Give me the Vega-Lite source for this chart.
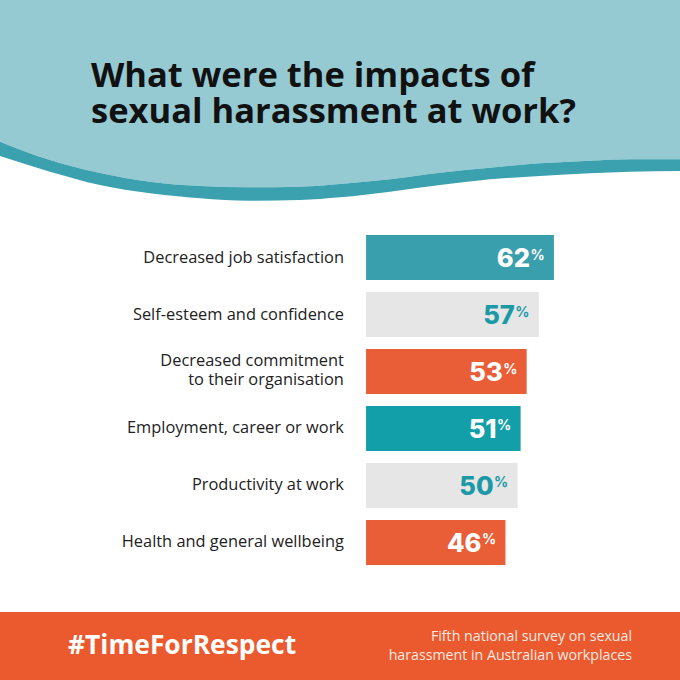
{
  "$schema": "https://vega.github.io/schema/vega-lite/v6.json",
  "padding": 0,
  "spacing": 0,
  "background": "white",
  "config": {"view": {"stroke": null}, "font": "Open Sans"},
  "datasets": {
    "wave": [
      {"x": 0, "inner": 141.7, "outer": 156},
      {"x": 50, "inner": 160, "outer": 171.7},
      {"x": 100, "inner": 173, "outer": 185},
      {"x": 150, "inner": 181.7, "outer": 193.3},
      {"x": 200, "inner": 186, "outer": 198.3},
      {"x": 250, "inner": 187.3, "outer": 200.7},
      {"x": 300, "inner": 186.7, "outer": 200},
      {"x": 340, "inner": 184, "outer": 197.3},
      {"x": 390, "inner": 179.3, "outer": 191.7},
      {"x": 440, "inner": 172.7, "outer": 185},
      {"x": 490, "inner": 167.7, "outer": 179.3},
      {"x": 540, "inner": 163.3, "outer": 176},
      {"x": 590, "inner": 160.7, "outer": 173.3},
      {"x": 630, "inner": 159.3, "outer": 171.7},
      {"x": 680, "inner": 159.3, "outer": 171}
    ],
    "impacts": [
      {"impact": "Decreased job satisfaction", "percent": 62},
      {"impact": "Self-esteem and confidence", "percent": 57},
      {"impact": "Decreased commitment\nto their organisation", "percent": 53},
      {"impact": "Employment, career or work", "percent": 51},
      {"impact": "Productivity at work", "percent": 50},
      {"impact": "Health and general wellbeing", "percent": 46}
    ]
  },
  "vconcat": [
    {
      "width": 680,
      "height": 205,
      "view": {"stroke": null, "fill": "white"},
      "layer": [
        {
          "data": {"name": "wave"},
          "mark": {"type": "area", "color": "#96cad3", "interpolate": "monotone"},
          "encoding": {
            "x": {"field": "x", "type": "quantitative", "scale": {"domain": [0, 680], "nice": false, "zero": false}, "axis": null},
            "y": {"field": "inner", "type": "quantitative", "scale": {"domain": [0, 205], "nice": false, "reverse": true}, "axis": null},
            "y2": {"datum": 0}
          }
        },
        {
          "data": {"name": "wave"},
          "mark": {"type": "area", "color": "#3ca1af", "interpolate": "monotone"},
          "encoding": {
            "x": {"field": "x", "type": "quantitative"},
            "y": {"field": "outer", "type": "quantitative"},
            "y2": {"field": "inner"}
          }
        },
        {
          "data": {"values": [{"title": "What were the impacts of"}]},
          "mark": {"type": "text", "align": "left", "baseline": "alphabetic", "fontSize": 34.5, "fontWeight": "bold", "font": "Open Sans", "color": "#111111"},
          "encoding": {
            "x": {"datum": 91, "type": "quantitative"},
            "y": {"datum": 86.5, "type": "quantitative"},
            "text": {"field": "title"}
          }
        },
        {
          "data": {"values": [{"title": "sexual harassment at work?"}]},
          "mark": {"type": "text", "align": "left", "baseline": "alphabetic", "fontSize": 34.5, "fontWeight": "bold", "font": "Open Sans", "color": "#111111"},
          "encoding": {
            "x": {"datum": 91, "type": "quantitative"},
            "y": {"datum": 123, "type": "quantitative"},
            "text": {"field": "title"}
          }
        }
      ]
    },
    {
      "width": 680,
      "height": 407,
      "data": {"name": "impacts"},
      "resolve": {"scale": {"color": "independent"}},
      "layer": [
        {
          "mark": {"type": "bar"},
          "encoding": {
            "y": {"field": "impact", "type": "nominal", "sort": null, "scale": {"range": [30, 360], "paddingInner": 0.21, "paddingOuter": 0}, "axis": null},
            "x": {"field": "percent", "type": "quantitative", "scale": {"domain": [-120.8, 103.6], "nice": false, "zero": false}, "axis": null},
            "x2": {"datum": 0},
            "color": {
              "field": "impact", "type": "nominal", "legend": null,
              "scale": {
                "domain": ["Decreased job satisfaction", "Self-esteem and confidence", "Decreased commitment\nto their organisation", "Employment, career or work", "Productivity at work", "Health and general wellbeing"],
                "range": ["#3a9fad", "#e6e6e6", "#e95d37", "#129fa9", "#e6e6e6", "#e95d37"]
              }
            }
          }
        },
        {
          "transform": [{"filter": "indexof(datum.impact, '\\n') < 0"}],
          "mark": {"type": "text", "align": "right", "baseline": "middle", "fontSize": 16.4, "font": "Open Sans", "color": "#222222"},
          "encoding": {
            "y": {"field": "impact", "type": "nominal", "sort": null},
            "x": {"datum": -7.3, "type": "quantitative"},
            "text": {"field": "impact"}
          }
        },
        {
          "transform": [{"filter": "indexof(datum.impact, '\\n') >= 0"}],
          "mark": {"type": "text", "align": "right", "baseline": "middle", "lineBreak": "\n", "lineHeight": 19, "dy": -11, "fontSize": 16.4, "font": "Open Sans", "color": "#222222"},
          "encoding": {
            "y": {"field": "impact", "type": "nominal", "sort": null},
            "x": {"datum": -7.3, "type": "quantitative"},
            "text": {"field": "impact"}
          }
        },
        {
          "mark": {"type": "text", "align": "right", "baseline": "alphabetic", "dx": -24, "dy": 9.5, "fontSize": 25.5, "font": "Inter", "fontWeight": 800},
          "encoding": {
            "y": {"field": "impact", "type": "nominal", "sort": null},
            "x": {"field": "percent", "type": "quantitative"},
            "text": {"field": "percent", "type": "quantitative"},
            "color": {
              "field": "impact", "type": "nominal", "legend": null,
              "scale": {
                "domain": ["Decreased job satisfaction", "Self-esteem and confidence", "Decreased commitment\nto their organisation", "Employment, career or work", "Productivity at work", "Health and general wellbeing"],
                "range": ["#ffffff", "#1b9aa6", "#ffffff", "#ffffff", "#1b9aa6", "#ffffff"]
              }
            }
          }
        },
        {
          "mark": {"type": "text", "align": "left", "baseline": "alphabetic", "dx": -23.5, "dy": 2, "fontSize": 14, "font": "Inter", "fontWeight": 700, "text": "%"},
          "encoding": {
            "y": {"field": "impact", "type": "nominal", "sort": null},
            "x": {"field": "percent", "type": "quantitative"},
            "color": {
              "field": "impact", "type": "nominal", "legend": null,
              "scale": {
                "domain": ["Decreased job satisfaction", "Self-esteem and confidence", "Decreased commitment\nto their organisation", "Employment, career or work", "Productivity at work", "Health and general wellbeing"],
                "range": ["#ffffff", "#1b9aa6", "#ffffff", "#ffffff", "#1b9aa6", "#ffffff"]
              }
            }
          }
        }
      ]
    },
    {
      "width": 680,
      "height": 68,
      "view": {"stroke": null, "fill": "#ea5a2e"},
      "data": {"values": [{"tag": "#TimeForRespect", "source": "Fifth national survey on sexual\nharassment in Australian workplaces"}]},
      "layer": [
        {
          "mark": {"type": "text", "align": "left", "baseline": "alphabetic", "fontSize": 26.4, "fontWeight": "bold", "font": "Open Sans", "color": "white"},
          "encoding": {
            "x": {"datum": 68, "type": "quantitative", "scale": {"domain": [0, 680], "nice": false, "zero": false}, "axis": null},
            "y": {"datum": 42, "type": "quantitative", "scale": {"domain": [0, 68], "nice": false, "reverse": true}, "axis": null},
            "text": {"field": "tag"}
          }
        },
        {
          "mark": {"type": "text", "align": "right", "baseline": "alphabetic", "lineBreak": "\n", "lineHeight": 19.5, "fontSize": 14.2, "font": "Open Sans", "color": "#fde9e1"},
          "encoding": {
            "x": {"datum": 632, "type": "quantitative"},
            "y": {"datum": 28.7, "type": "quantitative"},
            "text": {"field": "source"}
          }
        }
      ]
    }
  ]
}
